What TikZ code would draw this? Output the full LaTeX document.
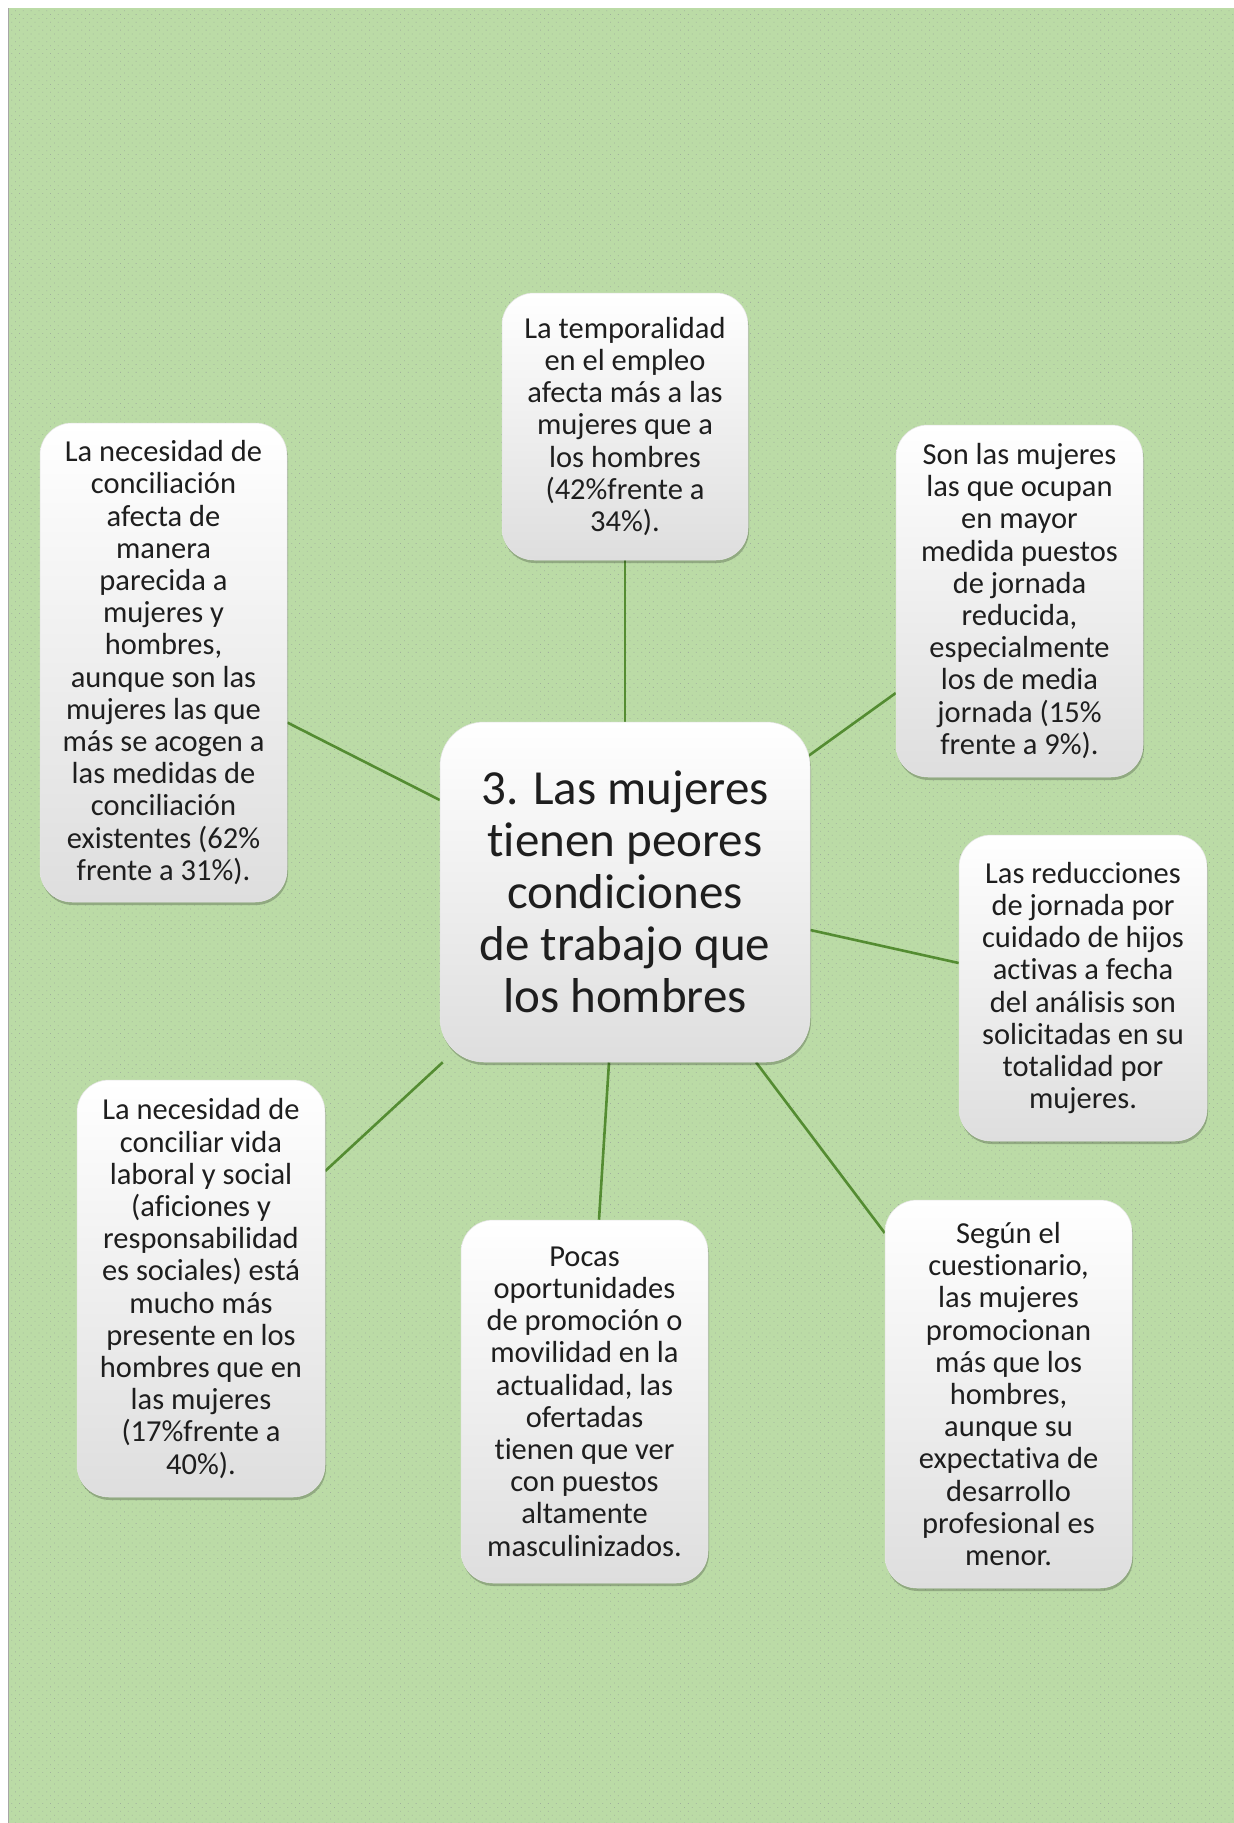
\documentclass[tikz,border=0pt]{standalone}
\usepackage{fontspec}
\setmainfont{Carlito}[Ligatures=NoCommon]
\usetikzlibrary{shadows,patterns.meta}

\definecolor{paper}{RGB}{187,219,166}
\definecolor{speck}{RGB}{160,176,156}
\definecolor{linkgreen}{RGB}{84,140,50}
\definecolor{ink}{RGB}{30,30,30}
\definecolor{boxlow}{RGB}{222,222,222}

\pgfdeclarelayer{paperlayer}
\pgfdeclarelayer{linklayer}
\pgfsetlayers{paperlayer,linklayer,main}

\begin{document}
\begin{tikzpicture}[x=1pt,y=-1pt,
  card/.style={rounded corners=32pt, draw=black!10, line width=0.5pt,
    top color=white, middle color=white, bottom color=boxlow,
    drop shadow={shadow xshift=1pt, shadow yshift=-3pt, opacity=0.22, fill=black},
    align=center, inner sep=0pt, text=ink,
    font=\fontsize{30.5}{32.2}\selectfont},
  hub/.style={card, rounded corners=44pt, font=\fontsize{49}{52}\selectfont},
  link/.style={draw=linkgreen, line width=2.6pt}]

\useasboundingbox (0,0) rectangle (1234,1823);

% central topic
\node[hub, minimum width=370pt, minimum height=340pt] (hub) at (625,892)
  {3. Las mujeres\\tienen peores\\condiciones\\de trabajo que\\los hombres};

% surrounding statements
\node[card, minimum width=246pt, minimum height=267pt] (top) at (625,426.5)
  {La temporalidad\\en el empleo\\afecta más a las\\mujeres que a\\los hombres\\(42\%frente a\\34\%).};

\node[card, minimum width=247pt, minimum height=479pt] (tl) at (163.5,662.5)
  {La necesidad de\\conciliación\\afecta de\\manera\\parecida a\\mujeres y\\hombres,\\aunque son las\\mujeres las que\\más se acogen a\\las medidas de\\conciliación\\existentes (62\%\\frente a 31\%).};

\node[card, minimum width=247pt, minimum height=352pt] (tr) at (1019.5,601)
  {Son las mujeres\\las que ocupan\\en mayor\\medida puestos\\de jornada\\reducida,\\especialmente\\los de media\\jornada (15\%\\frente a 9\%).};

\node[card, minimum width=248pt, minimum height=306pt] (rm) at (1083,988)
  {Las reducciones\\de jornada por\\cuidado de hijos\\activas a fecha\\del análisis son\\solicitadas en su\\totalidad por\\mujeres.};

\node[card, minimum width=248pt, minimum height=417pt] (bl) at (201,1288.5)
  {La necesidad de\\conciliar vida\\laboral y social\\(aficiones y\\responsabilidad\\es sociales) está\\mucho más\\presente en los\\hombres que en\\las mujeres\\(17\%frente a\\40\%).};

\node[card, minimum width=247pt, minimum height=363pt] (bm) at (584.5,1401.5)
  {Pocas\\oportunidades\\de promoción o\\movilidad en la\\actualidad, las\\ofertadas\\tienen que ver\\con puestos\\altamente\\masculinizados.};

\node[card, minimum width=247pt, minimum height=388pt] (br) at (1008.5,1394)
  {Según el\\cuestionario,\\las mujeres\\promocionan\\más que los\\hombres,\\aunque su\\expectativa de\\desarrollo\\profesional es\\menor.};

% patterned green sheet
\begin{pgfonlayer}{paperlayer}
  \fill[white] (0,0) rectangle (1234,1823);
  \fill[paper] (8,8) rectangle (1234,1823);
  \fill[pattern={Dots[distance=5.5pt,radius=0.55pt,angle=45]}, pattern color=speck]
    (8,8) rectangle (1234,1823);
  \draw[gray!70, line width=1pt] (8.5,8) -- (8.5,1823);
\end{pgfonlayer}

% spokes from the statements to the central topic
\begin{pgfonlayer}{linklayer}
  \draw[link] (top.south) -- (hub.north);
  \draw[link] ([yshift=-60pt]tl.east) -- ([yshift=92pt]hub.west);
  \draw[link] ([yshift=-92pt]tr.west) -- ([xshift=-2pt,yshift=136pt]hub.east);
  \draw[link] ([yshift=25pt]rm.west) -- ([yshift=-38pt]hub.east);
  \draw[link] ([yshift=161pt]br.west) -- ([xshift=131pt]hub.south);
  \draw[link] ([xshift=14.5pt]bm.north) -- ([xshift=-16pt]hub.south);
  \draw[link] ([yshift=117.5pt]bl.east) -- ([xshift=3pt]hub.south west);
\end{pgfonlayer}

\end{tikzpicture}
\end{document}
